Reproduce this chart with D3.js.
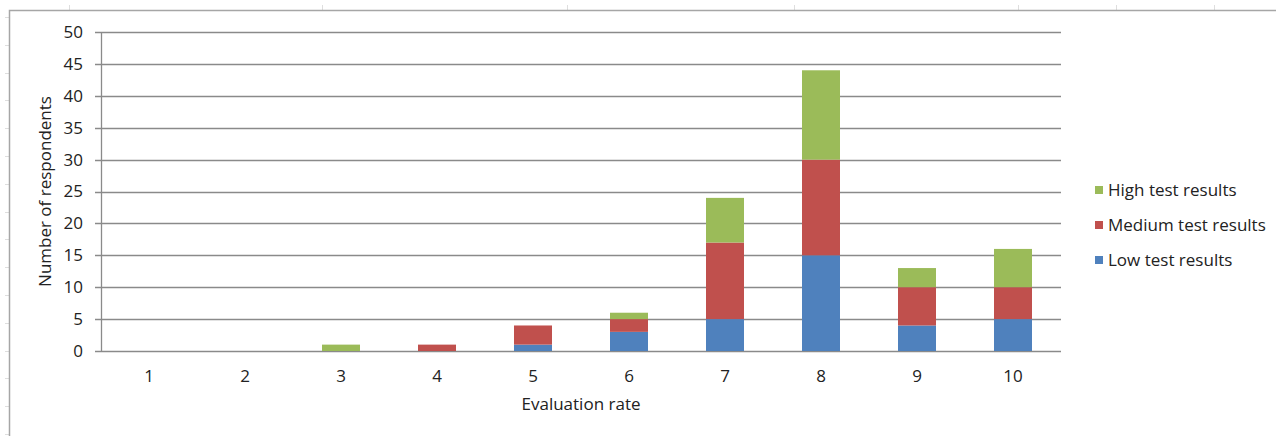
<!DOCTYPE html>
<html>
<head>
<meta charset="utf-8">
<script src="https://cdn.jsdelivr.net/npm/d3@7"></script>
<style>
  body { margin: 0; background: #fff; }
  text { font-family: "Open Sans", sans-serif; fill: #222; }
</style>
</head>
<body>
<div id="content"></div>
<script>
// chart data
var categories = ['1', '2', '3', '4', '5', '6', '7', '8', '9', '10']
var lowResults = [0, 0, 0, 0, 1, 3, 5, 15, 4, 5]
var mediumResults = [0, 0, 0, 1, 3, 2, 12, 15, 6, 5]
var highResults = [0, 0, 1, 0, 0, 1, 7, 14, 3, 6]
var seriesNames = ['Low test results', 'Medium test results', 'High test results']
var seriesColors = ['#4f81bd', '#c0504d', '#9bbb59']
var yTicks = [0, 5, 10, 15, 20, 25, 30, 35, 40, 45, 50]

var svgwidth = 1276
var svgheight = 436
var margin = {top: 32, right: 215, bottom: 85, left: 101}
var width = svgwidth - margin.left - margin.right
var height = svgheight - margin.top - margin.bottom
var fontSize = '17px'

var svg = d3.select("#content").append("svg")
  .attr("width", svgwidth)
  .attr("height", svgheight)

// faint spreadsheet cell marks behind the chart frame
var cellCols = [69, 322, 567, 794, 1018, 1116, 1214]
svg.append("g")
  .selectAll("line")
  .data(cellCols)
  .join("line")
    .attr("x1", d => d + 0.5).attr("x2", d => d + 0.5)
    .attr("y1", 5).attr("y2", 10)
    .attr("stroke", "#dedede")
for (var cy = 17; cy < svgheight; cy += 27.8) {
  svg.append("line")
    .attr("x1", 5).attr("x2", 9)
    .attr("y1", Math.round(cy) + 0.5).attr("y2", Math.round(cy) + 0.5)
    .attr("stroke", "#dedede")
}

// chart frame (only left and top edges are in view)
svg.append("path")
  .attr("d", "M9.5," + svgheight + "V10.5H" + svgwidth)
  .attr("fill", "none")
  .attr("stroke", "#a6a6a6")
  .attr("stroke-width", 1.5)

var yScale = d3.scaleLinear()
  .domain([0, 50])
  .range([height, 0])

var bandX = d3.scaleBand().domain(categories).range([0, width])
var barWidth = 38

var g = svg.append("g").attr("transform", "translate(" + margin.left + "," + margin.top + ")")

// gridlines, with the little outside ticks on the left
g.append("g")
  .selectAll("line")
  .data(yTicks)
  .join("line")
    .attr("x1", -6)
    .attr("x2", width)
    .attr("y1", d => Math.round(yScale(d)) + 0.5)
    .attr("y2", d => Math.round(yScale(d)) + 0.5)
    .attr("stroke", "#8a8a8a")
    .attr("stroke-width", 1.3)

// y axis line
g.append("line")
  .attr("x1", 0.5).attr("x2", 0.5)
  .attr("y1", 0).attr("y2", height)
  .attr("stroke", "#8a8a8a")
  .attr("stroke-width", 1.3)

var yAxis = g.append("g")
  .call(d3.axisLeft(yScale).tickValues(yTicks).tickSize(0).tickPadding(18))
yAxis.select(".domain").remove()
yAxis.selectAll("text").style("font-size", fontSize).attr("fill", "#222")

var xAxis = g.append("g")
  .attr("transform", "translate(0," + height + ")")
  .call(d3.axisBottom(bandX).tickSize(0).tickPadding(19))
xAxis.select(".domain").remove()
xAxis.selectAll("text").style("font-size", fontSize).attr("fill", "#222")

// stacked bars
var rows = categories.map(function(c, i) {
  return {cat: c, low: lowResults[i], medium: mediumResults[i], high: highResults[i]}
})
var stack = d3.stack().keys(['low', 'medium', 'high'])(rows)

g.append("g")
  .selectAll("g")
  .data(stack)
  .join("g")
    .attr("fill", (d, i) => seriesColors[i])
  .selectAll("rect")
  .data(d => d)
  .join("rect")
    .attr("class", "dataBar")
    .attr("x", d => bandX(d.data.cat) + (bandX.bandwidth() - barWidth) / 2)
    .attr("y", d => yScale(d[1]))
    .attr("width", barWidth)
    .attr("height", d => yScale(d[0]) - yScale(d[1]))

// axis titles
svg.append("text")
  .attr("transform", "translate(51," + (margin.top + height / 2) + ") rotate(-90)")
  .attr("text-anchor", "middle")
  .style("font-size", fontSize)
  .text("Number of respondents")

svg.append("text")
  .attr("x", margin.left + width / 2)
  .attr("y", 410)
  .attr("text-anchor", "middle")
  .style("font-size", fontSize)
  .text("Evaluation rate")

// legend, top entry is the last series
var legend = svg.append("g")
spacerIncrement = 0
for (i = seriesNames.length - 1; i >= 0; i--) {
  legend.append("rect")
    .attr("x", 1095)
    .attr("y", 186 + spacerIncrement)
    .attr("width", 8)
    .attr("height", 8)
    .attr("fill", seriesColors[i])
  legend.append("text")
    .attr("x", 1108)
    .attr("y", 190 + spacerIncrement)
    .attr("dy", "0.35em")
    .style("font-size", fontSize)
    .text(seriesNames[i])
  spacerIncrement += 35
}
</script>
</body>
</html>
